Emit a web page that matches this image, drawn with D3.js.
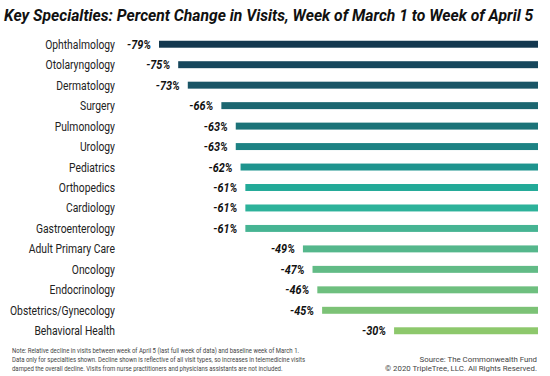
<!DOCTYPE html>
<html><head><meta charset="utf-8">
<script src="https://cdn.jsdelivr.net/npm/d3@7"></script>
<style>body{margin:0;background:#fff}svg{display:block}</style>
</head><body>
<svg id="c" width="550" height="376"></svg>
<script>
const categories = ["Ophthalmology","Otolaryngology","Dermatology","Surgery","Pulmonology","Urology","Pediatrics","Orthopedics","Cardiology","Gastroenterology","Adult Primary Care","Oncology","Endocrinology","Obstetrics/Gynecology","Behavioral Health"];
const values = [-79,-75,-73,-66,-63,-63,-62,-61,-61,-61,-49,-47,-46,-45,-30];
const colors = ["#14384f","#16475c","#1a5566","#1c6670","#1c7378","#1d8283","#1e948e","#22aa98","#2db29a","#46b493","#55b78c","#62bb86","#6ebf7f","#7cc276","#8dc86c"];
const titleText = "Key Specialties: Percent Change in Visits, Week of March 1 to Week of April 5";
const noteLines = ["Note: Relative decline in visits between week of April 5 (last full week of data) and baseline week of March 1.",
"Data only for specialties shown. Decline shown is reflective of all visit types, so increases in telemedicine visits",
"damped the overall decline. Visits from nurse practitioners and physicians assistants are not included."];
const sourceLines = ["Source: The Commonwealth Fund","© 2020 TripleTree, LLC. All Rights Reserved."];

const svg = d3.select("#c");
const font = "'Source Sans Pro',Roboto,'Noto Sans',sans-serif";

// keep the font size, condense horizontally so the widest line hits target
function squeeze(sel, target) {
  let maxW = 0;
  sel.each(function(){ maxW = Math.max(maxW, this.getComputedTextLength()); });
  const k = target / maxW;
  sel.each(function(){
    const w = this.getComputedTextLength();
    d3.select(this).attr("textLength", w * k).attr("lengthAdjust", "spacingAndGlyphs");
  });
}
function fit(sel, target) {
  let maxW = 0;
  sel.each(function(){ maxW = Math.max(maxW, this.getComputedTextLength()); });
  sel.attr("font-size", +sel.attr("font-size") * target / maxW);
}

const x = d3.scaleLinear().domain([-79, 0]).range([159, 538]);
const y = d3.scaleBand().domain(categories).range([34, 341]).paddingInner(0.66).paddingOuter(0.33);

// title
const t = svg.append("text").attr("x", 4).attr("y", 21)
  .attr("font-family", font).attr("font-weight", "bold").attr("font-style", "italic")
  .attr("font-size", 17).attr("fill", "#111").text(titleText);
fit(t, 530);

// bars
svg.append("g").selectAll("rect").data(values).join("rect")
  .attr("x", d => x(d)).attr("width", d => x(0) - x(d))
  .attr("y", (d, i) => y(categories[i])).attr("height", y.bandwidth())
  .attr("fill", (d, i) => colors[i]);

// category labels
const cl = svg.append("g").selectAll("text").data(categories).join("text")
  .attr("x", 115).attr("y", d => y(d) + y.bandwidth() / 2)
  .attr("dy", "0.36em").attr("text-anchor", "end")
  .attr("font-family", font).attr("font-size", 12.5).attr("fill", "#222").text(d => d);
squeeze(cl, 105);

// value labels
const vl = svg.append("g").selectAll("text").data(values).join("text")
  .attr("x", d => x(d) - 8).attr("y", (d, i) => y(categories[i]) + y.bandwidth() / 2)
  .attr("dy", "0.36em").attr("text-anchor", "end")
  .attr("font-family", font).attr("font-size", 12.5).attr("font-weight", "bold").attr("font-style", "italic")
  .attr("fill", "#111").text(d => d + "%");
squeeze(vl, 24);

// footnotes
const nl = svg.append("g").selectAll("text").data(noteLines).join("text")
  .attr("x", 12).attr("y", (d, i) => 353 + i * 9)
  .attr("font-family", font).attr("font-size", 7.2).attr("fill", "#444").text(d => d);
squeeze(nl, 293);
const sl = svg.append("g").selectAll("text").data(sourceLines).join("text")
  .attr("x", 537).attr("y", (d, i) => 362 + i * 9).attr("text-anchor", "end")
  .attr("font-family", font).attr("font-size", 7.2).attr("fill", "#444").text(d => d);
squeeze(sl, 152);
</script>
</body></html>
